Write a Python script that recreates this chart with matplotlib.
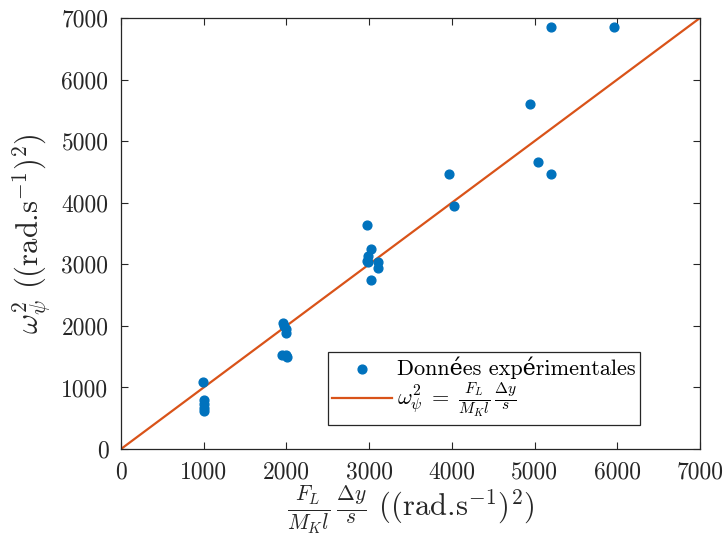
import matplotlib
matplotlib.use("Agg")
import matplotlib.pyplot as plt
import numpy as np

plt.rcParams['font.family'] = ['cmr10', 'DejaVu Serif']
plt.rcParams['mathtext.fontset'] = 'cm'
plt.rcParams['axes.formatter.use_mathtext'] = False

# Experimental data
x_data = [990, 1000, 1000, 1000, 1000,
          1960, 1975, 1990, 1995, 1950, 2000, 2010,
          2980, 2985, 2980, 2985, 3020, 3110, 3110, 3020,
          3970, 4030, 4950, 5040, 5200, 5200, 5960]
y_data = [1090, 790, 730, 660, 620,
          2050, 2000, 1950, 1890, 1530, 1530, 1490,
          3640, 3140, 3050, 3030, 3250, 3030, 2940, 2750,
          4470, 3950, 5600, 4660, 4470, 6850, 6850]
line_x = [0, 7000]
line_y = [0, 7000]
ticks = [0, 1000, 2000, 3000, 4000, 5000, 6000, 7000]

fig = plt.figure(figsize=(7.27, 5.35), dpi=100)
ax = fig.add_axes([0.1664, 0.1607, 0.7964, 0.8057])

ax.scatter(x_data, y_data, s=40, color='#0072BD', zorder=3,
           label='Données expérimentales')
ax.plot(line_x, line_y, color='#D95319', lw=1.6, zorder=2,
        label=r'$\omega_\psi^2\;=\;\frac{F_L}{M_K l}\,\frac{\Delta y}{s}$')

ax.set_xlim(0, 7000)
ax.set_ylim(0, 7000)
ax.set_xticks(ticks)
ax.set_yticks(ticks)
ax.set_xticklabels([str(t) for t in ticks])
ax.set_yticklabels([str(t) for t in ticks])
ax.tick_params(direction='in', top=True, right=True, length=5, width=0.8,
               labelsize=17, colors='#262626')
ax.tick_params(axis='x', pad=9)
ax.tick_params(axis='y', pad=9)
for sp in ax.spines.values():
    sp.set_color('#262626')
    sp.set_linewidth(0.9)

ax.set_xlabel(r'$\frac{F_L}{M_K l}\,\frac{\Delta y}{s}$ ((rad.s$^{-1}$)$^2$)',
              fontsize=22, color='#262626', labelpad=0)
ax.set_ylabel(r'$\omega_\psi^2$ ((rad.s$^{-1}$)$^2$)',
              fontsize=22, color='#262626', labelpad=6)

leg = ax.legend(loc='lower right', bbox_to_anchor=(0.896, 0.056),
                fontsize=16, frameon=True, fancybox=False,
                borderaxespad=0, handlelength=2.7, handletextpad=0.2,
                borderpad=0.2, labelspacing=0.1, framealpha=1)
leg.get_frame().set_edgecolor('#262626')
leg.get_frame().set_linewidth(0.9)

fig.savefig('out.png', dpi=100)
